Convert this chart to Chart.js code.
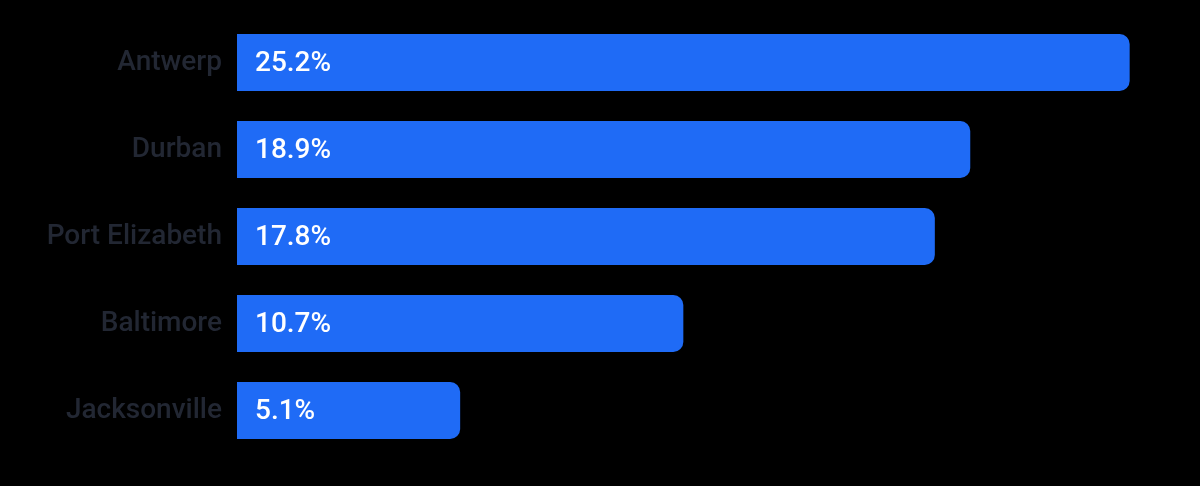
<!DOCTYPE html>
<html>
<head>
<meta charset="utf-8">
<script src="https://cdn.jsdelivr.net/npm/chart.js@4"></script>
<style>
  html, body { margin: 0; padding: 0; background: #000; }
  #wrap { width: 1200px; height: 486px; }
</style>
</head>
<body>
<div id="wrap"><canvas id="ports-chart"></canvas></div>
<script>
// port names, top to bottom
const ports = ["Antwerp", "Durban", "Port Elizabeth", "Baltimore", "Jacksonville"];
// bar lengths
const barValues = [25.2, 20.7, 19.7, 12.6, 6.3];
// the percentages printed inside the bars
const shareLabels = ["25.2%", "18.9%", "17.8%", "10.7%", "5.1%"];

//writes the printed share inside each bar, near its start
const insideLabels = {
  id: 'insideLabels',
  afterDatasetsDraw(chart) {
    const ctx = chart.ctx;
    const bars = chart.getDatasetMeta(0).data;
    ctx.save();
    ctx.fillStyle = '#ffffff';
    ctx.font = '500 28px Roboto';
    ctx.textBaseline = 'middle';
    ctx.textAlign = 'left';
    bars.forEach((bar, i) => {
      ctx.fillText(shareLabels[i], bar.base + 18, bar.y + 1);
    });
    ctx.restore();
  }
};

const portsCanvas = document.getElementById("ports-chart");
let portsChart = new Chart(portsCanvas, {
  type: 'bar',
  data: {
    labels: ports,
    datasets: [{
      data: barValues,
      backgroundColor: '#1f6bf6',
      borderRadius: 10,
      borderSkipped: 'start',
      barPercentage: 0.655,
      categoryPercentage: 1
    }]
  },
  options: {
    indexAxis: 'y',
    responsive: true,
    maintainAspectRatio: false,
    animation: { duration: 0 },
    layout: { padding: { top: 19, bottom: 32, right: 42, left: 0 } },
    scales: {
      x: {
        display: false,
        min: 0,
        max: 26
      },
      y: {
        grid: { display: false, drawTicks: false },
        border: { display: false },
        ticks: {
          color: '#222733',
          font: { family: 'Roboto', size: 28, weight: '500' },
          padding: 15
        },
        //fixed label column, and no extra room above/below for the labels
        afterFit(scale) {
          scale.width = 237;
          scale.paddingTop = 0;
          scale.paddingBottom = 0;
        }
      }
    },
    plugins: {
      legend: { display: false },
      tooltip: { enabled: false }
    }
  },
  plugins: [insideLabels]
});
</script>
</body>
</html>
